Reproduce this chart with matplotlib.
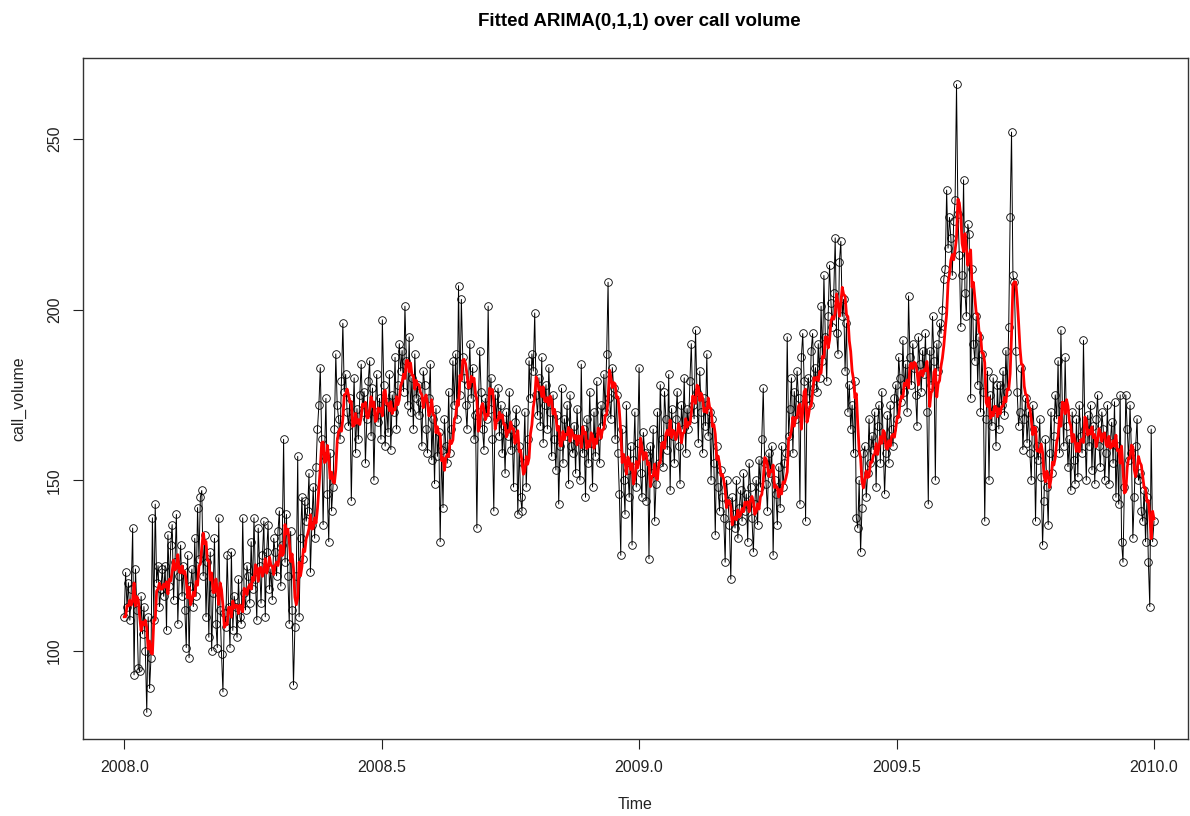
import numpy as np
import matplotlib
matplotlib.use("Agg")
import matplotlib.pyplot as plt

plt.rcParams['font.family'] = ['Liberation Sans', 'DejaVu Sans']

# daily call volume, 2008.0 -> 2010.0
call_volume = [
    110, 123, 113, 120, 109, 118, 136, 93, 124, 112,
    95, 94, 116, 105, 113, 100, 82, 110, 89, 98,
    139, 109, 143, 120, 125, 113, 118, 124, 116, 125,
    106, 134, 119, 131, 137, 115, 126, 140, 108, 122,
    131, 116, 125, 112, 101, 128, 98, 119, 124, 113,
    133, 116, 142, 127, 145, 147, 122, 134, 110, 126,
    104, 129, 100, 117, 133, 108, 101, 139, 112, 99,
    88, 111, 107, 128, 113, 101, 129, 106, 116, 113,
    104, 121, 110, 108, 139, 117, 112, 125, 122, 114,
    132, 118, 139, 121, 109, 136, 125, 114, 128, 138,
    110, 129, 137, 118, 124, 115, 133, 129, 122, 135,
    141, 119, 131, 162, 126, 140, 122, 108, 135, 112,
    90, 107, 122, 157, 110, 133, 145, 127, 144, 138,
    141, 152, 123, 137, 148, 133, 154, 165, 172, 183,
    162, 137, 157, 174, 146, 132, 158, 141, 148, 165,
    187, 172, 168, 162, 179, 196, 176, 181, 170, 166,
    174, 144, 167, 180, 158, 171, 162, 175, 184, 170,
    176, 155, 168, 179, 185, 163, 177, 150, 170, 181,
    167, 174, 162, 197, 178, 160, 173, 164, 181, 159,
    175, 170, 186, 165, 178, 190, 182, 188, 176, 201,
    185, 172, 192, 170, 180, 165, 187, 174, 178, 169,
    173, 160, 182, 178, 165, 158, 174, 184, 156, 168,
    149, 171, 157, 164, 132, 159, 142, 168, 160, 155,
    176, 158, 165, 185, 172, 187, 168, 207, 175, 203,
    186, 180, 172, 165, 178, 190, 174, 183, 162, 169,
    136, 170, 188, 176, 165, 159, 174, 168, 201, 171,
    180, 162, 141, 175, 168, 177, 163, 172, 158, 166,
    152, 170, 163, 176, 159, 165, 148, 167, 171, 140,
    160, 145, 141, 155, 170, 148, 162, 185, 174, 187,
    182, 199, 175, 169, 180, 166, 186, 161, 172, 178,
    165, 183, 170, 157, 175, 162, 153, 169, 143, 160,
    177, 155, 168, 163, 172, 149, 175, 160, 158, 166,
    152, 171, 162, 150, 184, 158, 165, 145, 168, 155,
    176, 161, 148, 170, 157, 179, 163, 155, 172, 166,
    181, 170, 187, 208, 174, 168, 183, 177, 162, 175,
    158, 146, 128, 165, 150, 140, 172, 153, 145, 160,
    131, 156, 170, 148, 161, 183, 152, 145, 164, 158,
    144, 157, 127, 160, 152, 165, 138, 149, 170, 155,
    178, 162, 154, 176, 168, 159, 181, 147, 171, 163,
    155, 168, 176, 160, 149, 172, 165, 180, 158, 171,
    165, 179, 190, 172, 168, 194, 176, 161, 182, 170,
    158, 174, 166, 187, 163, 170, 150, 168, 155, 134,
    160, 148, 141, 153, 145, 139, 126, 150, 144, 137,
    121, 145, 140, 136, 150, 133, 142, 147, 138, 152,
    141, 146, 132, 155, 148, 139, 129, 143, 150, 137,
    156, 148, 162, 177, 155, 149, 141, 158, 152, 160,
    128, 150, 146, 137, 154, 142, 160, 148, 155, 158,
    192, 163, 171, 180, 158, 176, 168, 182, 174, 143,
    186, 193, 179, 138, 174, 180, 172, 188, 193, 177,
    183, 176, 190, 180, 201, 185, 210, 192, 179, 198,
    213, 202, 195, 205, 221, 193, 187, 214, 220, 198,
    203, 182, 196, 170, 178, 165, 172, 158, 179, 139,
    136, 150, 129, 142, 158, 160, 145, 152, 168, 155,
    163, 159, 170, 148, 166, 172, 155, 176, 162, 146,
    158, 169, 155, 172, 165, 160, 174, 178, 168, 186,
    180, 173, 191, 176, 184, 170, 204, 186, 178, 190,
    183, 175, 166, 192, 184, 176, 188, 181, 193, 170,
    143, 188, 178, 198, 185, 150, 190, 182, 196, 193,
    200, 209, 212, 235, 218, 227, 221, 210, 226, 232,
    266, 228, 216, 195, 210, 238, 205, 198, 225, 222,
    174, 212, 190, 185, 198, 178, 192, 170, 187, 176,
    138, 168, 182, 150, 175, 166, 180, 171, 160, 178,
    165, 178, 172, 182, 169, 188, 176, 195, 227, 252,
    210, 208, 188, 176, 166, 170, 183, 159, 168, 174,
    161, 170, 158, 150, 172, 165, 138, 160, 156, 168,
    151, 131, 144, 162, 148, 137, 158, 170, 152, 163,
    175, 168, 185, 158, 194, 172, 160, 186, 166, 154,
    162, 147, 170, 156, 149, 168, 151, 172, 163, 158,
    191, 165, 150, 169, 160, 172, 153, 166, 149, 168,
    175, 160, 154, 170, 165, 150, 158, 172, 149, 161,
    167, 155, 173, 145, 160, 143, 175, 132, 126, 148,
    175, 165, 156, 172, 158, 133, 145, 160, 168, 150,
    152, 141, 138, 147, 132, 145, 126, 113, 165, 132,
    138,
]

start_year = 2008.0
freq = 365
ma_theta = -0.75  # MA(1) coefficient of the fitted ARIMA(0,1,1)

y = np.array(call_volume, dtype=float)
t = start_year + np.arange(len(y)) / freq

# one-step-ahead fitted values of ARIMA(0,1,1) (= simple exponential smoothing)
alpha = 1 + ma_theta
fitted = np.empty_like(y)
fitted[0] = y[0]
for i in range(1, len(y)):
    fitted[i] = fitted[i - 1] + alpha * (y[i - 1] - fitted[i - 1])

fig = plt.figure(figsize=(11.9, 8.16), dpi=100)
ax = fig.add_axes([83 / 1190, 1 - 739 / 816, (1188 - 83) / 1190, (739 - 58) / 816])

ax.plot(t, y, color='black', lw=0.7, marker='o', ms=5.5, mfc='none', mec='black', mew=0.6)
ax.plot(t, fitted, color='red', lw=2)

ax.set_xlim(2007.92, 2010.066)
ax.set_ylim(74.2, 273.7)
ax.set_xticks([2008.0, 2008.5, 2009.0, 2009.5, 2010.0])
ax.set_xticklabels(['2008.0', '2008.5', '2009.0', '2009.5', '2010.0'])
ax.set_yticks([100, 150, 200, 250])
ax.set_yticklabels(['100', '150', '200', '250'], rotation=90, va='center')
ax.tick_params(direction='out', length=7, width=0.8, labelsize=11.5, colors='#222222', pad=8)
for s in ax.spines.values():
    s.set_linewidth(1.0)
    s.set_color('#333333')

ax.set_xlabel('Time', fontsize=11.5, color='#222222', labelpad=16)
ax.set_ylabel('call_volume', fontsize=11.5, color='#222222', labelpad=15)
fig.text(0.537, 1 - 21 / 816, 'Fitted ARIMA(0,1,1) over call volume', ha='center', va='center',
         fontsize=13.5, fontweight='bold')

fig.savefig('out.png', dpi=100)
